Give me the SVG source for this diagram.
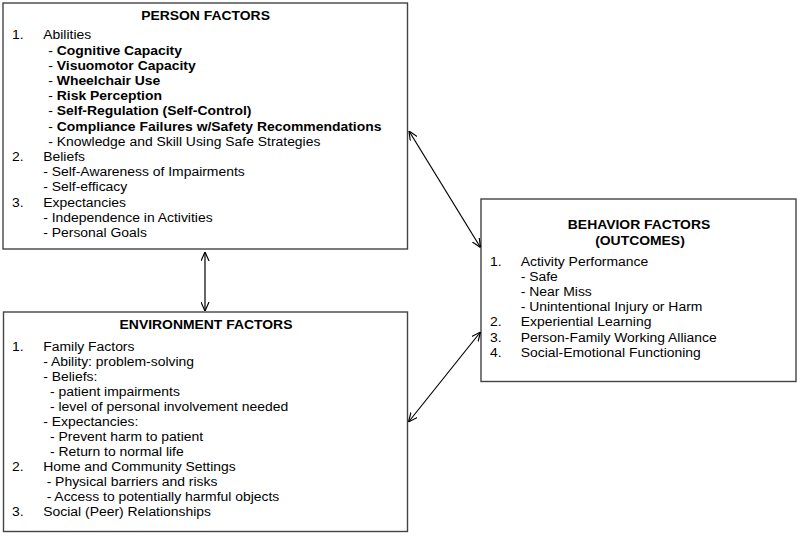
<svg xmlns="http://www.w3.org/2000/svg" width="800" height="536" viewBox="0 0 800 536">
<style>
.box{fill:#fff;stroke:#444;stroke-width:1.4}
text{font-family:"Liberation Sans",Arial,sans-serif;font-size:12px;fill:#000}
.t{font-weight:bold;text-anchor:middle}
.b{font-weight:bold}
.c{stroke:#000;stroke-width:1.2;fill:none;marker-start:url(#ah);marker-end:url(#ah)}
</style>
<defs>
<marker id="ah" viewBox="0 0 10 10" refX="10" refY="5" markerWidth="9" markerHeight="9" markerUnits="userSpaceOnUse" orient="auto-start-reverse">
<path d="M0,0.5 L10,5 L0,9.5" fill="none" stroke="#000" stroke-width="1.3"/>
</marker>
</defs>
<rect width="800" height="536" fill="#fff"/>
<g id="person">
<rect class="box" x="3" y="3" width="404.5" height="246"/>
<g transform="scale(1.16,1)">
<text class="t" x="177.2" y="20">PERSON FACTORS</text>
<text x="10.3" y="39.5">1.</text><text x="37.3" y="39.5">Abilities</text>
<text x="41.6" y="54.7">- <tspan class="b">Cognitive Capacity</tspan></text>
<text x="41.6" y="69.9">- <tspan class="b">Visuomotor Capacity</tspan></text>
<text x="41.6" y="85.1">- <tspan class="b">Wheelchair Use</tspan></text>
<text x="41.6" y="100.3">- <tspan class="b">Risk Perception</tspan></text>
<text x="41.6" y="115.5">- <tspan class="b">Self-Regulation (Self-Control)</tspan></text>
<text x="41.6" y="130.7">- <tspan class="b">Compliance Failures w/Safety Recommendations</tspan></text>
<text x="41.6" y="145.9">- Knowledge and Skill Using Safe Strategies</text>
<text x="10.3" y="161.1">2.</text><text x="37.3" y="161.1">Beliefs</text>
<text x="37.3" y="176.3">- Self-Awareness of Impairments</text>
<text x="37.3" y="191.5">- Self-efficacy</text>
<text x="10.3" y="206.7">3.</text><text x="37.3" y="206.7">Expectancies</text>
<text x="37.3" y="221.9">- Independence in Activities</text>
<text x="37.3" y="237.1">- Personal Goals</text>
</g>
</g>
<g id="environment">
<rect class="box" x="3.5" y="312" width="404" height="219.5"/>
<g transform="scale(1.16,1)">
<text class="t" x="177.6" y="329.5">ENVIRONMENT FACTORS</text>
<text x="10.3" y="350.7">1.</text><text x="37.3" y="350.7">Family Factors</text>
<text x="37.3" y="365.7">- Ability: problem-solving</text>
<text x="37.3" y="380.8">- Beliefs:</text>
<text x="43.1" y="395.8">- patient impairments</text>
<text x="43.1" y="410.8">- level of personal involvement needed</text>
<text x="37.3" y="425.9">- Expectancies:</text>
<text x="43.1" y="440.9">- Prevent harm to patient</text>
<text x="43.1" y="455.9">- Return to normal life</text>
<text x="10.3" y="471">2.</text><text x="37.3" y="471">Home and Community Settings</text>
<text x="40.2" y="486">- Physical barriers and risks</text>
<text x="40.2" y="501">- Access to potentially harmful objects</text>
<text x="10.3" y="516">3.</text><text x="37.3" y="516">Social (Peer) Relationships</text>
</g>
</g>
<g id="behavior">
<rect class="box" x="481" y="199" width="315" height="182.5"/>
<g transform="scale(1.16,1)">
<text class="t" x="550.9" y="229.3">BEHAVIOR FACTORS</text>
<text class="t" x="551.7" y="245">(OUTCOMES)</text>
<text x="422.4" y="265.7">1.</text><text x="448.9" y="265.7">Activity Performance</text>
<text x="448.9" y="280.9">- Safe</text>
<text x="448.9" y="296.1">- Near Miss</text>
<text x="448.9" y="311.3">- Unintentional Injury or Harm</text>
<text x="422.4" y="326.5">2.</text><text x="448.9" y="326.5">Experiential Learning</text>
<text x="422.4" y="341.7">3.</text><text x="448.9" y="341.7">Person-Family Working Alliance</text>
<text x="422.4" y="356.9">4.</text><text x="448.9" y="356.9">Social-Emotional Functioning</text>
</g>
</g>
<g id="connectors">
<line class="c" x1="409" y1="131" x2="480.5" y2="247.5"/>
<line class="c" x1="205" y1="252" x2="205" y2="311"/>
<line class="c" x1="408.5" y1="422" x2="480.5" y2="332"/>
</g>
</svg>
